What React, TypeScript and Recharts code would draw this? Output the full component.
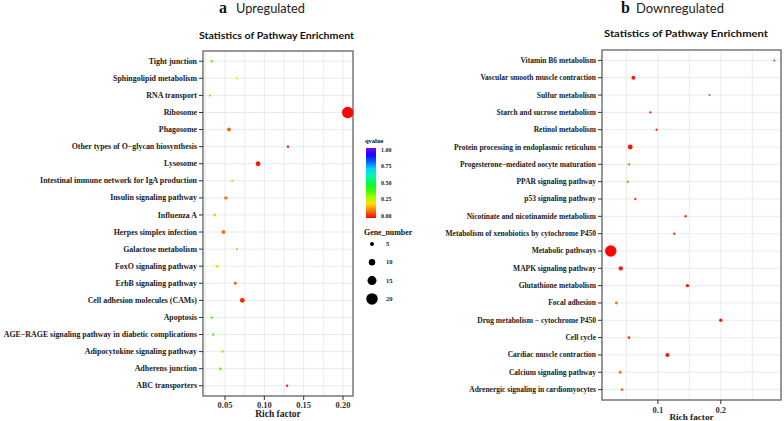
import React from "react";
import {
  ScatterChart,
  Scatter,
  XAxis,
  YAxis,
  ZAxis,
  CartesianGrid,
  ReferenceArea,
} from "recharts";

// a: upregulated pathways (top to bottom)
const upPathways = [
  "Tight junction",
  "Sphingolipid metabolism",
  "RNA transport",
  "Ribosome",
  "Phagosome",
  "Other types of O\u2212glycan biosynthesis",
  "Lysosome",
  "Intestinal immune network for IgA production",
  "Insulin signaling pathway",
  "Influenza A",
  "Herpes simplex infection",
  "Galactose metabolism",
  "FoxO signaling pathway",
  "ErbB signaling pathway",
  "Cell adhesion molecules (CAMs)",
  "Apoptosis",
  "AGE\u2212RAGE signaling pathway in diabetic complications",
  "Adipocytokine signaling pathway",
  "Adherens junction",
  "ABC transporters",
];
const upRichFactor = [
  0.033, 0.065, 0.031, 0.206, 0.055, 0.13, 0.092, 0.059, 0.051, 0.037,
  0.048, 0.065, 0.04, 0.063, 0.072, 0.033, 0.035, 0.047, 0.044, 0.129,
];
const upGeneNumber = [2, 2, 1, 21, 5, 2, 7, 1, 4, 3, 5, 1, 3, 3, 7, 2, 2, 2, 2, 2];
const upQvalue = [
  0.36, 0.26, 0.38, 0.0, 0.08, 0.02, 0.02, 0.36, 0.1, 0.3,
  0.1, 0.4, 0.2, 0.08, 0.03, 0.38, 0.38, 0.33, 0.38, 0.03,
];

// b: downregulated pathways (top to bottom)
const downPathways = [
  "Vitamin B6 metabolism",
  "Vascular smooth muscle contraction",
  "Sulfur metabolism",
  "Starch and sucrose metabolism",
  "Retinol metabolism",
  "Protein processing in endoplasmic reticulum",
  "Progesterone\u2212mediated oocyte maturation",
  "PPAR signaling pathway",
  "p53 signaling pathway",
  "Nicotinate and nicotinamide metabolism",
  "Metabolism of xenobiotics by cytochrome P450",
  "Metabolic pathways",
  "MAPK signaling pathway",
  "Glutathione metabolism",
  "Focal adhesion",
  "Drug metabolism \u2212 cytochrome P450",
  "Cell cycle",
  "Cardiac muscle contraction",
  "Calcium signaling pathway",
  "Adrenergic signaling in cardiomyocytes",
];
const downRichFactor = [
  0.285, 0.061, 0.182, 0.088, 0.098, 0.056, 0.054, 0.052, 0.064, 0.144,
  0.126, 0.025, 0.041, 0.147, 0.034, 0.2, 0.054, 0.115, 0.04, 0.043,
];
const downGeneNumber = [1, 5, 1, 2, 2, 7, 2, 2, 2, 2, 2, 21, 6, 4, 3, 4, 3, 5, 3, 3];
const downQvalue = [
  0.04, 0.02, 0.06, 0.05, 0.05, 0.01, 0.1, 0.12, 0.06, 0.04,
  0.05, 0.0, 0.02, 0.02, 0.1, 0.02, 0.05, 0.01, 0.1, 0.09,
];

const upTicks = [0.025, 0.05, 0.075, 0.1, 0.125, 0.15, 0.175, 0.2];
const upMajorTicks = [0.05, 0.1, 0.15, 0.2];
const downTicks = [0.05, 0.1, 0.15, 0.2, 0.25];
const downMajorTicks = [0.1, 0.2];

const qvalueTicks = [1, 0.75, 0.5, 0.25, 0];
const geneLegend = [5, 10, 15, 20];

const GENE_DOMAIN = [0, 20];
const RADIUS_RANGE = [0.75, 5.75];

const serif = "Liberation Serif";
const sans = "Lato";

function qColor(q: number) {
  return `hsl(${Math.round(270 * q)}, 95%, 50%)`;
}

function legendRadius(g: number) {
  const t = (g - GENE_DOMAIN[0]) / (GENE_DOMAIN[1] - GENE_DOMAIN[0]);
  return RADIUS_RANGE[0] + t * (RADIUS_RANGE[1] - RADIUS_RANGE[0]);
}

function buildRows(names: string[], rich: number[], genes: number[], q: number[]) {
  return names.map((name, i) => ({ name, idx: i, rich: rich[i], genes: genes[i], q: q[i] }));
}

// z-axis range is used as the dot radius
const Dot = (props: any) => {
  const { cx, cy, payload } = props;
  const r = typeof props.size === "number" ? props.size : Math.PI * (props.width / 2) ** 2;
  return <circle cx={cx} cy={cy} r={r} fill={qColor(payload.q)} />;
};

const serifBold = { fontFamily: serif, fontWeight: 700 };

const XTick = (props: any) => {
  const { x, y, payload, majors, fmt, dy } = props;
  const v = payload.value;
  if (!majors.some((m: number) => Math.abs(m - v) < 1e-9)) return null;
  return (
    <g>
      <line x1={x} x2={x} y1={y - 6} y2={y - 2} stroke="#333" strokeWidth={1} />
      <text x={x} y={y + dy} textAnchor="middle" style={{ ...serifBold, fontSize: 8.5 }} fill="#333">
        {fmt(v)}
      </text>
    </g>
  );
};

const YTick = (props: any) => {
  const { x, y, payload, names, size } = props;
  return (
    <text x={x} y={y} dy="0.33em" textAnchor="end" style={{ ...serifBold, fontSize: size }} fill="#1a1a1a">
      {names[payload.value]}
    </text>
  );
};

type PanelProps = {
  names: string[];
  rich: number[];
  genes: number[];
  q: number[];
  domain: [number, number];
  ticks: number[];
  majors: number[];
  fmt: (v: number) => string;
  width: number;
  top: number;
  right: number;
  axisHeight: number;
  yAxisWidth: number;
  labelSize: number;
  tickDy: number;
  titleOffset: number;
  titleSize: number;
};

function EnrichmentPanel(p: PanelProps) {
  const rows = buildRows(p.names, p.rich, p.genes, p.q);
  const yTicks = p.names.map((_, i) => i);
  return (
    <ScatterChart width={p.width} height={421} margin={{ top: p.top, right: p.right, bottom: 0, left: 0 }}>
      <CartesianGrid stroke="#e6e6e6" strokeWidth={0.8} />
      <XAxis
        type="number"
        dataKey="rich"
        domain={p.domain}
        ticks={p.ticks}
        interval={0}
        allowDataOverflow
        height={p.axisHeight}
        tickSize={4}
        tickMargin={2}
        tickLine={false}
        axisLine={false}
        tick={<XTick majors={p.majors} fmt={p.fmt} dy={p.tickDy} />}
        label={{
          value: "Rich factor",
          position: "insideBottom",
          offset: p.titleOffset,
          style: { ...serifBold, fontSize: p.titleSize },
          fill: "#1a1a1a",
        }}
      />
      <YAxis
        type="number"
        dataKey="idx"
        domain={[-0.6, 19.6]}
        ticks={yTicks}
        interval={0}
        reversed
        width={p.yAxisWidth}
        tickSize={4}
        tickMargin={2}
        tickLine={{ stroke: "#333" }}
        axisLine={false}
        tick={<YTick names={p.names} size={p.labelSize} />}
      />
      <ZAxis type="number" dataKey="genes" domain={GENE_DOMAIN} range={RADIUS_RANGE} />
      <Scatter data={rows} shape={<Dot />} isAnimationActive={false} />
      <ReferenceArea
        x1={p.domain[0]}
        x2={p.domain[1]}
        y1={-0.6}
        y2={19.6}
        fill="none"
        stroke="#7a7a7a"
        strokeWidth={1.5}
        ifOverflow="visible"
      />
    </ScatterChart>
  );
}

function Overlay() {
  const barTop = 148;
  const barH = 70;
  return (
    <svg width={784} height={421} style={{ position: "absolute", left: 0, top: 0, pointerEvents: "none" }}>
      <defs>
        <linearGradient id="qgrad" x1="0" y1="0" x2="0" y2="1">
          {[1, 0.9, 0.8, 0.7, 0.6, 0.5, 0.4, 0.3, 0.2, 0.1, 0].map((q) => (
            <stop key={q} offset={`${(1 - q) * 100}%`} stopColor={qColor(q)} />
          ))}
        </linearGradient>
      </defs>

      {/* panel headers */}
      <text x={219} y={13} style={{ ...serifBold, fontSize: 16 }} fill="#111">
        a
      </text>
      <text x={236} y={13} style={{ fontFamily: sans, fontSize: 12.5 }} fill="#222" textLength={69} lengthAdjust="spacingAndGlyphs">
        Upregulated
      </text>
      <text x={199} y={39} style={{ fontFamily: sans, fontWeight: 700, fontSize: 10 }} fill="#111" textLength={155} lengthAdjust="spacingAndGlyphs">
        Statistics of Pathway Enrichment
      </text>

      <text x={621} y={13} style={{ ...serifBold, fontSize: 16 }} fill="#111">
        b
      </text>
      <text x={636} y={13} style={{ fontFamily: sans, fontSize: 12.5 }} fill="#222" textLength={88} lengthAdjust="spacingAndGlyphs">
        Downregulated
      </text>
      <text x={604} y={37} style={{ fontFamily: sans, fontWeight: 700, fontSize: 10 }} fill="#111" textLength={164} lengthAdjust="spacingAndGlyphs">
        Statistics of Pathway Enrichment
      </text>

      {/* qvalue colour bar */}
      <text x={365} y={143} style={{ ...serifBold, fontSize: 6.5 }} fill="#111">
        qvalue
      </text>
      <rect x={366} y={barTop} width={10} height={barH} fill="url(#qgrad)" />
      {qvalueTicks.map((q) => (
        <text
          key={q}
          x={381}
          y={barTop + 2 + (1 - q) * (barH - 4)}
          dy="0.33em"
          style={{ ...serifBold, fontSize: 6 }}
          fill="#222"
        >
          {q.toFixed(2)}
        </text>
      ))}

      {/* gene number legend */}
      <text x={364} y={235} style={{ ...serifBold, fontSize: 7.9 }} fill="#111">
        Gene_number
      </text>
      {geneLegend.map((g, i) => (
        <g key={g}>
          <circle cx={372} cy={244 + i * 18.3} r={legendRadius(g)} fill="#000" />
          <text x={386} y={244 + i * 18.3} dy="0.33em" style={{ ...serifBold, fontSize: 6.5 }} fill="#222">
            {g}
          </text>
        </g>
      ))}
    </svg>
  );
}

export default function App() {
  return (
    <div
      style={{
        position: "absolute",
        left: 0,
        top: 0,
        width: 784,
        height: 421,
        background: "#fff",
        overflow: "hidden",
      }}
    >
      <div style={{ position: "absolute", left: 0, top: 0 }}>
        <EnrichmentPanel
          names={upPathways}
          rich={upRichFactor}
          genes={upGeneNumber}
          q={upQvalue}
          domain={[0.022, 0.2127]}
          ticks={upTicks}
          majors={upMajorTicks}
          fmt={(v) => v.toFixed(2)}
          width={360}
          top={51}
          right={7}
          axisHeight={25}
          yAxisWidth={203}
          labelSize={7.9}
          tickDy={5.5}
          titleOffset={4}
          titleSize={9.5}
        />
      </div>
      <div style={{ position: "absolute", left: 400, top: 0 }}>
        <EnrichmentPanel
          names={downPathways}
          rich={downRichFactor}
          genes={downGeneNumber}
          q={downQvalue}
          domain={[0.0111, 0.2957]}
          ticks={downTicks}
          majors={downMajorTicks}
          fmt={(v) => v.toFixed(1)}
          width={384}
          top={50}
          right={3}
          axisHeight={21}
          yAxisWidth={202}
          labelSize={7.5}
          tickDy={6.5}
          titleOffset={1.5}
          titleSize={9.2}
        />
      </div>
      <Overlay />
    </div>
  );
}
